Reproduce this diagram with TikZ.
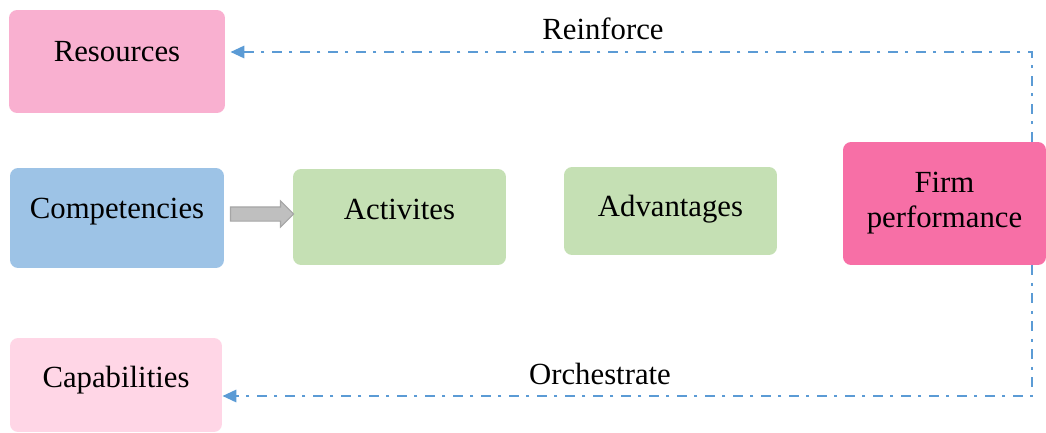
\documentclass[tikz,border=0pt]{standalone}
\usepackage{fontspec}
\setmainfont{Liberation Serif}
\usepackage{xcolor}
\usetikzlibrary{arrows.meta, shapes.arrows}

\definecolor{respink}{HTML}{F9B0D0}
\definecolor{compblue}{HTML}{9DC3E6}
\definecolor{actgreen}{HTML}{C5E0B4}
\definecolor{firmpink}{HTML}{F76FA6}
\definecolor{cappink}{HTML}{FFD6E6}
\definecolor{linkblue}{HTML}{5B9BD5}

\begin{document}
\begin{tikzpicture}[x=0.02cm, y=-0.02cm, font=\fontsize{17.5}{20}\selectfont]
            % Define block styles
            \tikzstyle{block} = [rectangle, rounded corners=0.16cm, inner sep=0pt, align=center]
            \tikzstyle{lift} = [text height=0.68em, text depth=#1]
            \tikzstyle{link} = [draw=linkblue, line width=1.7pt, dash pattern=on 0.2cm off 0.15cm on 0.06cm off 0.15cm, -{Triangle[length=0.28cm, width=0.24cm]}]
            \tikzstyle{push} = [single arrow, draw=black!35, fill=black!25, line width=0.6pt, minimum height=1.26cm, minimum width=0.5cm, inner xsep=0pt, inner ysep=0.13cm, single arrow head extend=0.12cm]

            \useasboundingbox (0,0) rectangle (1046,433);

            % Nodes
            \node[block, lift=0.22cm, fill=respink, minimum width=4.32cm, minimum height=2.06cm] at (117,61.5) (res) {Resources};
            \node[block, lift=0.22cm, fill=compblue, minimum width=4.28cm, minimum height=2cm] at (117,218) (comp) {Competencies};
            \node[block, lift=0.12cm, fill=actgreen, minimum width=4.26cm, minimum height=1.92cm] at (399.5,217) (act) {Activites};
            \node[block, lift=0cm, fill=actgreen, minimum width=4.26cm, minimum height=1.76cm] at (670.5,211) (adv) {Advantages};
            \node[block, fill=firmpink, minimum width=4.06cm, minimum height=2.46cm] at (944.5,203.5) (firm) {Firm\\performance};
            \node[block, lift=0.14cm, fill=cappink, minimum width=4.24cm, minimum height=1.88cm] at (116,385) (cap) {Capabilities};
            \node[push] at (258.5,214) (step1) {};

            \node at (603,29) (reinf) {Reinforce};
            \node at (600,374) (orch) {Orchestrate};

            % Feedback links
            \coordinate (rcorner) at (1032,52);
            \coordinate (ocorner) at (1032,396);
            \draw[link, shorten >=0.1cm] (firm.north -| rcorner) -- (rcorner) -- (res.east |- rcorner);
            \draw[link] (firm.south -| ocorner) -- (ocorner) -- (cap.east |- ocorner);
        \end{tikzpicture}
\end{document}
